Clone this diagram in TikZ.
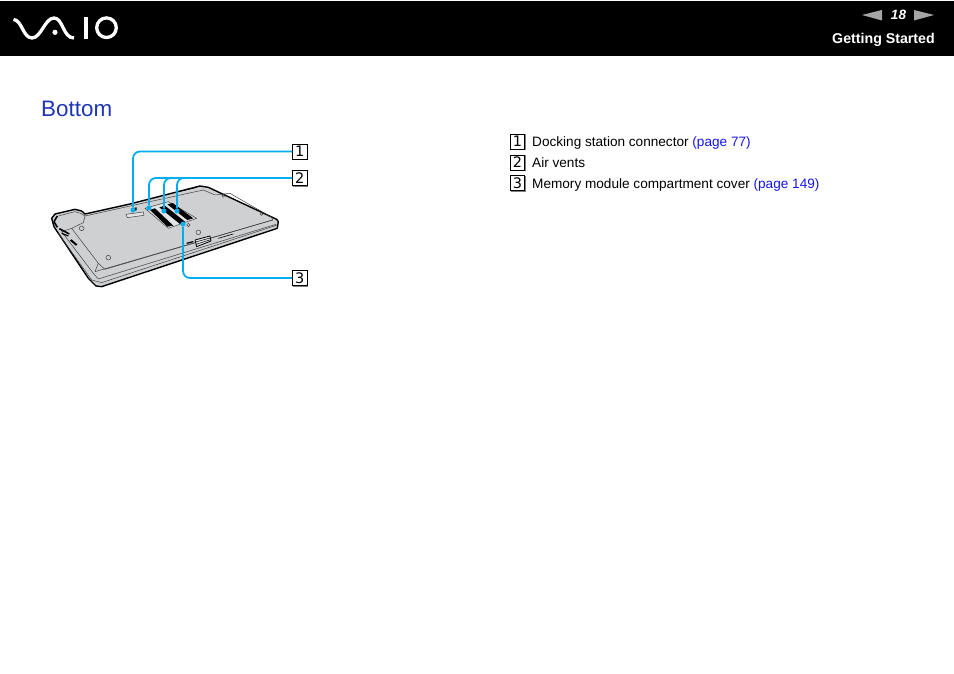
\documentclass[tikz,border=0pt]{standalone}
\usepackage{fontspec}
\setmainfont{Liberation Sans}
\newfontfamily\boxfont{DejaVu Sans}
\usepackage{xcolor}
\usetikzlibrary{positioning, shadows}
\definecolor{callout}{HTML}{00AEEF}
\definecolor{titleblue}{HTML}{1F35B5}
\definecolor{linkblue}{HTML}{1414EE}
\definecolor{plate}{HTML}{CFD0D2}
\definecolor{panel}{HTML}{E2E3E4}
\tikzset{
    numbox/.style={draw=black, line width=0.9pt, fill=white, minimum width=14.5pt, minimum height=15pt, inner sep=0pt, font=\boxfont\fontsize{14.5}{15}\selectfont, copy shadow={shadow xshift=0.9pt, shadow yshift=-0.9pt, draw=gray, fill=gray}},
    legendtext/.style={anchor=base west, inner sep=0pt, font=\fontsize{13.6}{15}\selectfont},
    calloutline/.style={draw=callout, line width=1.8pt, rounded corners=7pt},
    calloutdot/.style={circle, fill=callout, inner sep=0pt, minimum size=5pt},
    logoline/.style={draw=white, line width=3.3pt},
    thinline/.style={draw=black!75, line width=0.5pt}
}
\begin{document}
\begin{tikzpicture}[x=1pt, y=-1pt]
    \useasboundingbox (0, 0) rectangle (954, 674);
    \fill[black] (0, 1) rectangle (954, 56);
    % logo
    \draw[logoline] (13.5, 19.5) .. controls (22, 20) and (23, 38) .. (32, 38) .. controls (41, 38) and (45, 18) .. (54, 18) .. controls (63, 18) and (63, 38) .. (74, 38);
    \fill[white] (55, 32.3) circle (2.6);
    \draw[logoline] (86, 17) -- (86, 39.5);
    \draw[logoline] (106.5, 27.7) circle (9.8);
    % page number
    \fill[gray!70] (862, 15) -- (882, 10) -- (882, 20.5) -- cycle;
    \fill[gray!70] (934, 15) -- (914, 10) -- (914, 20.5) -- cycle;
    \node[text=white, inner sep=0pt, font=\fontsize{13.5}{15}\selectfont\bfseries\itshape] (pagenum) at (898.5, 15) {18};
    \node[text=white, anchor=base east, inner sep=0pt, font=\fontsize{14.2}{16}\selectfont\bfseries] (section) at (935, 43.7) {Getting Started};
    \node[text=titleblue, anchor=west, inner sep=0pt, font=\fontsize{22.4}{26}\selectfont] (title) at (41, 108.5) {Bottom};
    % laptop
    \begin{scope}[shift={(30, 130)}, x=0.3333pt, y=-0.3333pt, line join=round]
        \draw[fill=plate, line width=1.4pt] (65, 265) -- (75, 252) -- (135, 238) -- (155, 243) -- (165, 252) -- (300, 222) -- (510, 168) -- (535, 172) -- (740, 268) -- (745, 275) -- (742, 295) -- (215, 470) -- (198, 468) -- (175, 445) -- (85, 310) -- (72, 290) -- cycle;
        \draw[thinline] (165, 258) -- (355, 216) -- (520, 180) -- (555, 195) -- (600, 190) -- (725, 262) -- (728, 270) -- (225, 418) -- (205, 400) -- (125, 295) -- (160, 278) -- cycle;
        \draw[thinline] (85, 258) -- (135, 245) -- (152, 250) -- (165, 258);
        \draw[thinline] (125, 295) -- (95, 305) -- (190, 430) -- (205, 447) -- (738, 283);
        \draw[thinline] (205, 400) -- (195, 425) -- (728, 270);
        \draw[thinline] (85, 310) -- (185, 450) -- (215, 458) -- (742, 285);
        \draw[line width=1.6pt] (82, 258) -- (72, 275) -- (82, 292);
        \draw[line width=1.6pt] (88, 296) -- (118, 312);
        \draw[line width=1.2pt] (95, 310) -- (115, 318);
        \draw[line width=2pt] (122, 330) -- (140, 345);
        \draw[line width=0.8pt] (440, 186) -- (500, 172);
        % compartment cover
        \draw[fill=panel, thinline] (345, 235) -- (415, 215) -- (500, 265) -- (415, 295) -- cycle;
        \fill[black] (360, 240) -- (375, 235) -- (430, 287) -- (412, 290) -- cycle;
        \fill[black] (388, 232) -- (405, 227) -- (465, 275) -- (450, 282) -- cycle;
        \fill[black] (412, 223) -- (428, 219) -- (490, 265) -- (472, 270) -- cycle;
        % docking slot
        \draw[fill=panel, thinline] (288, 253) -- (340, 246) -- (342, 256) -- (292, 263) -- cycle;
        \fill[black] (303, 236) -- (320, 232) -- (320, 241) -- (305, 244) -- cycle;
        % latch
        \draw[fill=panel, line width=0.8pt] (495, 330) -- (540, 318) -- (543, 333) -- (500, 350) -- cycle;
        \draw[line width=0.5pt] (497, 336) -- (541, 324) (498, 343) -- (542, 329);
        \draw[line width=1.2pt] (470, 340) -- (490, 335);
        \draw[line width=0.6pt] (565, 325) -- (610, 312);
        % screws
        \draw[thinline] (155, 295) circle (7) (235, 383) circle (7) (505, 307) circle (7);
        \draw[thinline] (695, 252) circle (4) (580, 198) circle (4) (475, 285) circle (5);
    \end{scope}
    % callouts
    \node[numbox] (one) at (299.7, 151.5) {1};
    \node[numbox] (two) at (299.7, 178) {2};
    \node[numbox] (three) at (299.7, 278) {3};
    \node[calloutdot] (dock) at (133, 210) {};
    \node[calloutdot] (venta) at (149, 208) {};
    \node[calloutdot] (ventb) at (164, 211) {};
    \node[calloutdot] (ventc) at (177, 211) {};
    \node[calloutdot] (cover) at (183, 224) {};
    \draw[calloutline] (one.west) -| (dock);
    \draw[calloutline] (two.west) -| (venta);
    \draw[calloutline] (two.west) -| (ventb);
    \draw[calloutline] (two.west) -| (ventc);
    \draw[calloutline] (three.west) -| (cover);
    % legend
    \node[numbox] (legone) at (517.5, 141.5) {1};
    \node[numbox] (legtwo) at (517.5, 162.5) {2};
    \node[numbox] (legthree) at (517.5, 183) {3};
    \node[legendtext] (textone) at (532, 146.3) {Docking station connector \textcolor{linkblue}{(page 77)}};
    \node[legendtext] (texttwo) at (532, 167.3) {Air vents};
    \node[legendtext] (textthree) at (532, 188.3) {Memory module compartment cover \textcolor{linkblue}{(page 149)}};
\end{tikzpicture}
\end{document}
